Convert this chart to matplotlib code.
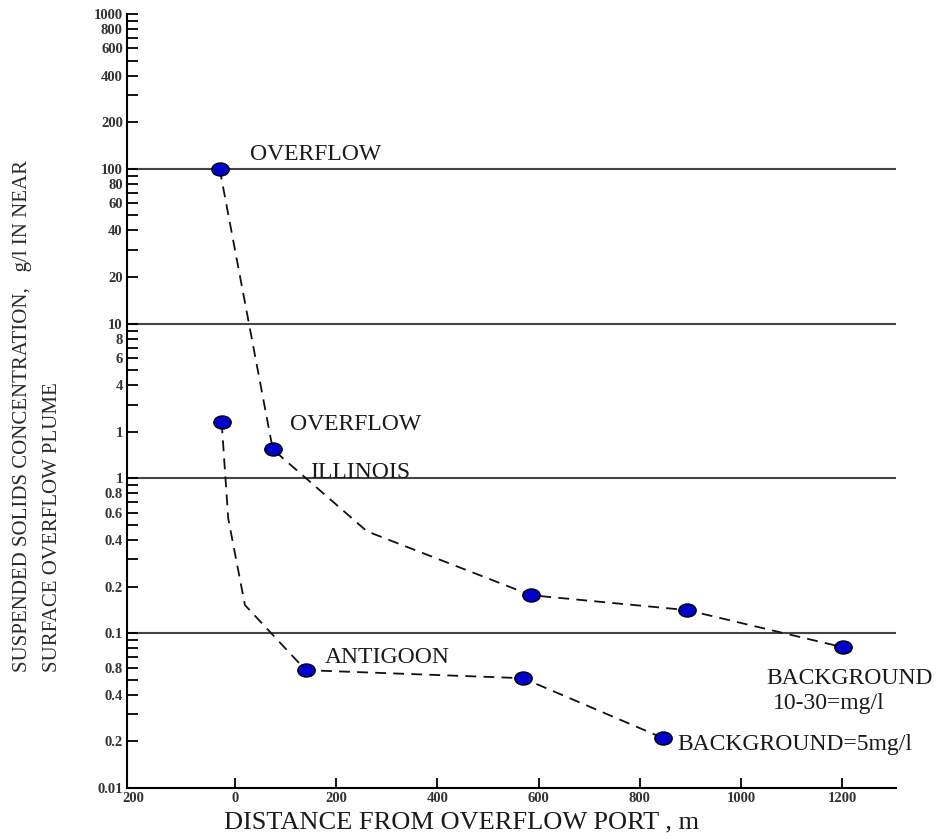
import numpy as np
import matplotlib
matplotlib.use("Agg")
import matplotlib.pyplot as plt
from matplotlib.path import Path
from matplotlib.transforms import Affine2D
from matplotlib.ticker import FixedLocator, FixedFormatter, NullLocator

plt.rcParams['font.family'] = ['Liberation Serif', 'DejaVu Serif']

# --- data ---
# upper curve (OVERFLOW / ILLINOIS); index 2 is a bend of the dashed line, no marker
upper_dist = [-30, 75, 261, 585, 893, 1202]
upper_conc = [100, 1.54, 0.455, 0.176, 0.141, 0.081]
upper_marked = [0, 1, 3, 4, 5]

# lower curve (OVERFLOW / ANTIGOON); indices 1, 2 are bends of the dashed line
lower_dist = [-26, -13, 20, 140, 569, 846]
lower_conc = [2.30, 0.55, 0.152, 0.0577, 0.0512, 0.0210]
lower_marked = [0, 3, 4, 5]

# decade reference lines
ref_levels = [100, 10, 1, 0.1]

# y tick labels as printed on the original (some of them misprinted)
y_label_vals = [1000, 800, 600, 400, 200,
                100, 80, 60, 40, 20,
                10, 8, 6, 4, 2,
                1, 0.8, 0.6, 0.4, 0.2,
                0.1, 0.06, 0.04, 0.02, 0.01]
y_label_txt = ['1000', '800', '600', '400', '200',
               '100', '80', '60', '40', '20',
               '10', '8', '6', '4', '1',
               '1', '0.8', '0.6', '0.4', '0.2',
               '0.1', '0.8', '0.4', '0.2', '0.01']

x_tick_vals = [-200, 0, 200, 400, 600, 800, 1000, 1200]
x_tick_txt = ['200', '0', '200', '400', '600', '800', '1000', '1200']

# annotations: text, x, y
notes = [
    ('OVERFLOW', 30, 123),
    ('OVERFLOW', 109, 2.23),
    ('ILLINOIS', 148, 1.09),
    ('ANTIGOON', 178, 0.070),
    ('BACKGROUND', 1049, 0.0512),
    ('10-30=mg/l', 1063, 0.0353),
    ('BACKGROUND=5mg/l', 874, 0.0190),
]

# --- figure ---
fig = plt.figure(figsize=(9.49, 8.39), dpi=100)
ax = fig.add_axes([0.1338, 0.0608, 0.9442 - 0.1338, 0.9833 - 0.0608])
ax.set_yscale('log')
ax.set_xlim(-213, 1306)
ax.set_ylim(0.01, 1000)

for lvl in ref_levels:
    ax.axhline(lvl, color='#444444', lw=1.5, zorder=1)

# slightly wide ellipse marker, like the stretched dots in the scan
ellipse = Path.unit_circle().transformed(Affine2D().scale(1.33, 1.0))

for xs, ys, marked in [(upper_dist, upper_conc, upper_marked),
                       (lower_dist, lower_conc, lower_marked)]:
    ax.plot(xs, ys, color='#111111', lw=1.3, ls=(0, (6, 4)), zorder=2)
    ax.plot([xs[i] for i in marked], [ys[i] for i in marked], ls='none',
            marker=ellipse, ms=12.5, mfc='#0000cc', mec='black', mew=1.0, zorder=3)

for txt, x, y in notes:
    ax.text(x, y, txt, fontsize=17, ha='left', va='center', color='#1a1a1a')

# y ticks: every 1..9 x decade, labels only where the original has them
y_all = sorted({m * 10.0 ** k for k in range(-2, 3) for m in range(1, 10)} | {1000.0})
ax.yaxis.set_major_locator(FixedLocator(y_all))
lab_map = {round(v, 6): t for v, t in zip(y_label_vals, y_label_txt)}
ax.yaxis.set_major_formatter(FixedFormatter([lab_map.get(round(v, 6), '') for v in y_all]))
ax.yaxis.set_minor_locator(NullLocator())

ax.xaxis.set_major_locator(FixedLocator(x_tick_vals))
ax.xaxis.set_major_formatter(FixedFormatter(x_tick_txt))

ax.tick_params(axis='y', direction='in', length=8, width=1.3, pad=3,
               labelsize=10.5, labelcolor='#333333')
ax.tick_params(axis='x', direction='in', length=7, width=1.3, pad=3,
               labelsize=10.5, labelcolor='#333333')
for lab in ax.get_xticklabels() + ax.get_yticklabels():
    lab.set_fontweight('bold')
ax.xaxis.get_major_ticks()[0].tick1line.set_visible(False)

ax.spines['top'].set_visible(False)
ax.spines['right'].set_visible(False)
ax.spines['left'].set_linewidth(1.5)
ax.spines['bottom'].set_linewidth(1.5)

fig.text(0.0232, 0.199, 'SUSPENDED SOLIDS CONCENTRATION,   g/l IN NEAR',
         rotation=90, rotation_mode='anchor', ha='left', va='center',
         fontsize=15, color='#2a2a2a')
fig.text(0.0548, 0.199, 'SURFACE OVERFLOW PLUME',
         rotation=90, rotation_mode='anchor', ha='left', va='center',
         fontsize=15, color='#2a2a2a')
fig.text(0.486, 0.0203, 'DISTANCE FROM OVERFLOW PORT , m',
         ha='center', va='center', fontsize=19, color='#1a1a1a')

fig.savefig('out.png', dpi=100)
